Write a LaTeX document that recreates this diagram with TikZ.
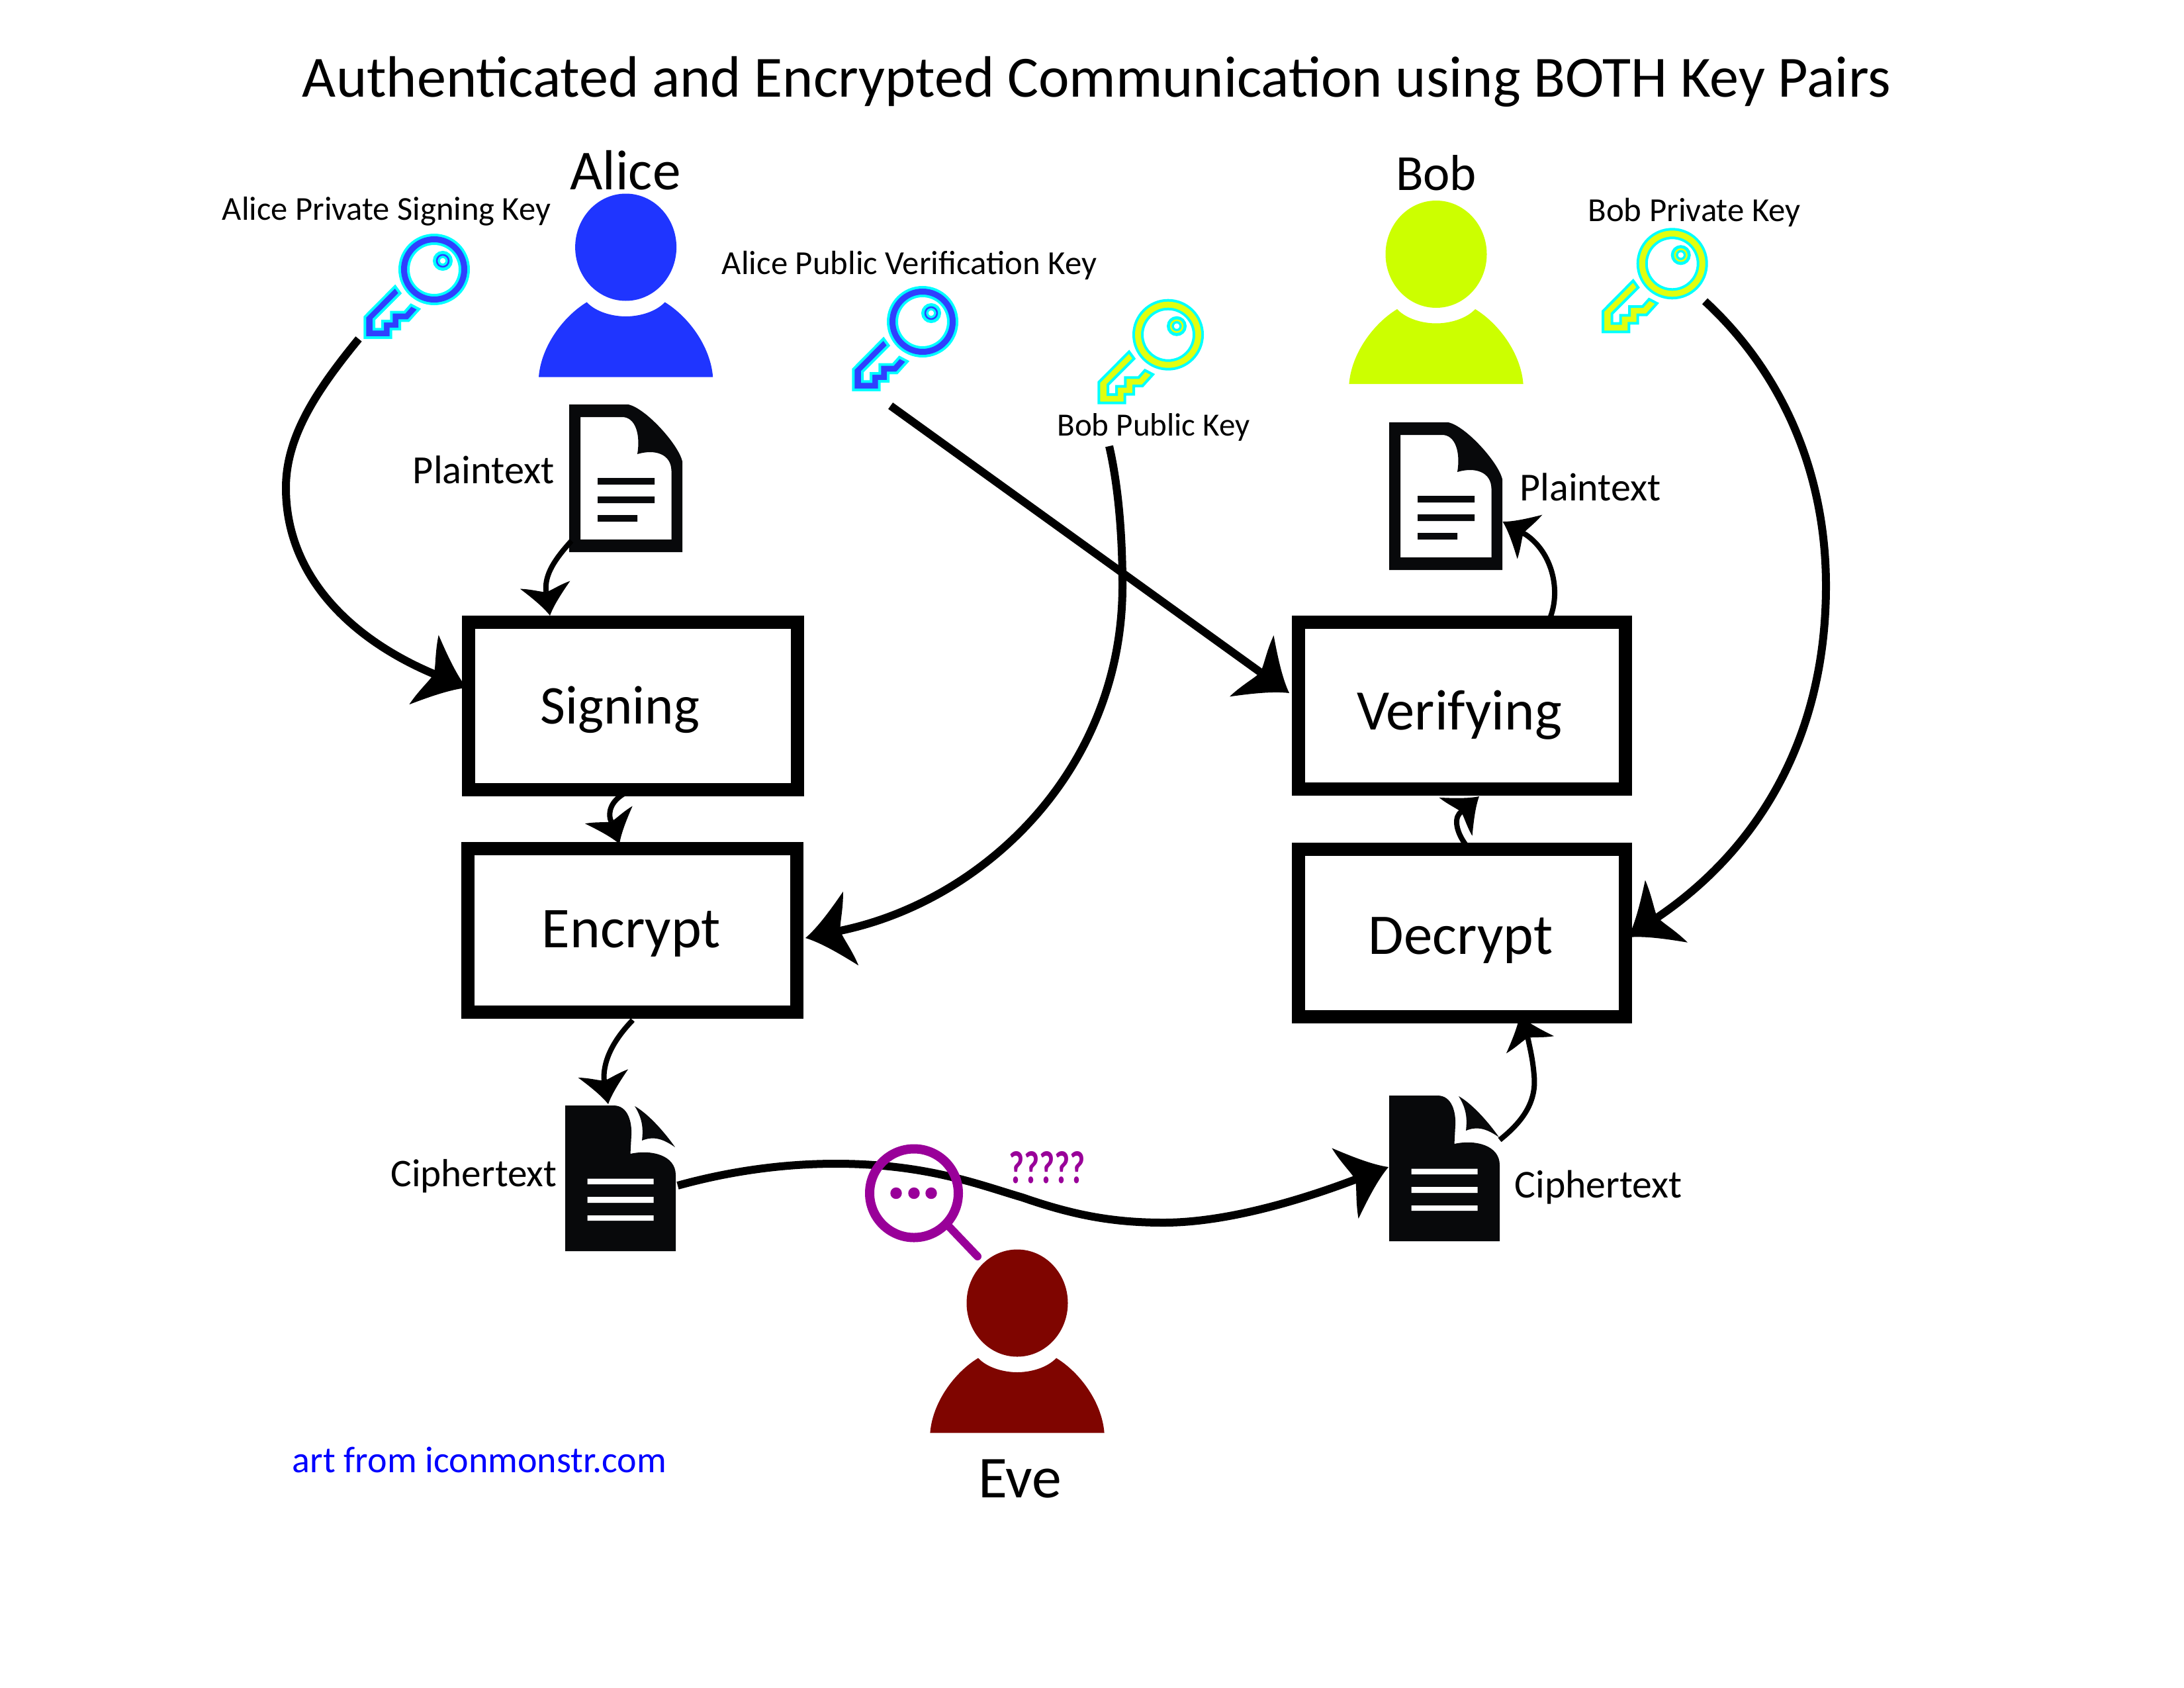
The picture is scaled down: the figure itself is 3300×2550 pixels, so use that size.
\documentclass[tikz,border=0pt]{standalone}
\usepackage{fontspec}
\usepackage{graphicx}
\setmainfont{Carlito}
\usetikzlibrary{arrows.meta}
\definecolor{alicecol}{HTML}{1F35FF}
\definecolor{alicekey}{HTML}{2F3FFF}
\definecolor{bobcol}{HTML}{CCFF00}
\definecolor{bobkey}{HTML}{E1FF0F}
\definecolor{evecol}{HTML}{7F0500}
\definecolor{inkdoc}{HTML}{08090B}
\definecolor{spy}{HTML}{990099}
\definecolor{edgecyan}{HTML}{00FFFF}
\definecolor{creditblue}{HTML}{0000FF}
\pgfdeclarearrow{
  name=Swoop,
  defaults={length=70pt},
  setup code={
    \pgfarrowssettipend{0pt}
    \pgfarrowssetbackend{-\pgfarrowlength}
    \pgfarrowssetlineend{-.78\pgfarrowlength}
    \pgfarrowssetvisualbackend{-.78\pgfarrowlength}
    \pgfarrowshullpoint{0pt}{0pt}
    \pgfarrowshullpoint{-\pgfarrowlength}{.814\pgfarrowlength}
    \pgfarrowshullpoint{-\pgfarrowlength}{-.814\pgfarrowlength}
    \pgfarrowssavethe\pgfarrowlength
  },
  parameters={\the\pgfarrowlength},
  drawing code={
    \pgfpathmoveto{\pgfqpoint{0pt}{0pt}}
    \pgfpathcurveto{\pgfpoint{-.314\pgfarrowlength}{.171\pgfarrowlength}}{\pgfpoint{-.686\pgfarrowlength}{.514\pgfarrowlength}}{\pgfpoint{-\pgfarrowlength}{.814\pgfarrowlength}}
    \pgfpathcurveto{\pgfpoint{-.94\pgfarrowlength}{.5\pgfarrowlength}}{\pgfpoint{-.83\pgfarrowlength}{.25\pgfarrowlength}}{\pgfpoint{-.786\pgfarrowlength}{.086\pgfarrowlength}}
    \pgfpathlineto{\pgfpoint{-.786\pgfarrowlength}{-.086\pgfarrowlength}}
    \pgfpathcurveto{\pgfpoint{-.83\pgfarrowlength}{-.25\pgfarrowlength}}{\pgfpoint{-.94\pgfarrowlength}{-.5\pgfarrowlength}}{\pgfpoint{-\pgfarrowlength}{-.814\pgfarrowlength}}
    \pgfpathcurveto{\pgfpoint{-.686\pgfarrowlength}{-.514\pgfarrowlength}}{\pgfpoint{-.314\pgfarrowlength}{-.171\pgfarrowlength}}{\pgfqpoint{0pt}{0pt}}
    \pgfpathclose
    \pgfusepathqfill
  },
}
\tikzset{
  bigflow/.style={line width=12pt,draw=black,-{Swoop[length=70pt]}},
  smallflow/.style={line width=8pt,draw=black,-{Swoop[length=47pt]}},
  stagebox/.style={draw=black,line width=20pt,fill=white,minimum width=#1,inner sep=0pt,outer sep=0pt},
  caption/.style={inner sep=0pt,outer sep=0pt,text=black},
}
\newcommand{\fitted}[2]{\resizebox{#1pt}{!}{#2}}
\newcommand{\personicon}[4]{%
  \coordinate (#1) at (#2,#3);
  \begin{scope}[shift={(#2,#3)}]
    \fill[#4] (0,0) ellipse [x radius=76.5,y radius=81];
    \fill[#4] (-131.6,196) .. controls (-128,150) and (-95,105) .. (-59,83)
      .. controls (-45,98) and (-20,104.5) .. (0,104.5)
      .. controls (20,104.5) and (45,98) .. (59,83)
      .. controls (95,105) and (128,150) .. (131.6,196) -- cycle;
  \end{scope}}
\newcommand{\keyicon}[4]{%
  \coordinate (#1) at (#2,#3);
  \begin{scope}[shift={(#2,#3)}]
    \draw[edgecyan,line width=17pt] (0,0) circle [radius=45.5];
    \draw[#4,line width=9pt] (0,0) circle [radius=45.5];
    \draw[edgecyan,line width=10.7pt] (13,-13) circle [radius=9.6];
    \draw[#4,line width=2.5pt] (13,-13) circle [radius=9];
    \filldraw[draw=edgecyan,fill=#4,line width=4pt,miter limit=4]
      (-59,25.7) -- (-104.7,71.8) -- (-104.7,103) -- (-65.3,103) -- (-65.3,90) -- (-52,90) -- (-52,77.3)
      -- (-38.7,77.3) -- (-23,60) -- (-35,53.7) -- (-44.7,64.7) -- (-64.7,64.7) -- (-64.7,78) -- (-78,78)
      -- (-78,90.3) -- (-91,90.3) -- (-91,75.5) -- (-51.5,36) -- cycle;
  \end{scope}}
\newcommand{\plainicon}[3]{%
  \coordinate (#1) at (#2,#3);
  \begin{scope}[shift={(#2,#3)}]
    \fill[inkdoc,even odd rule] (0,0) -- (89,0) .. controls (115,5) and (165,60) .. (171,86) -- (171,223) -- (0,223) -- cycle
      (17,19) -- (80,19) .. controls (100,19) and (108,45) .. (103,75) .. controls (130,67) and (154,75) .. (154.5,100)
      -- (154.5,204) -- (17,204) -- cycle;
    \fill[inkdoc] (43,111) rectangle (129,121) (43,139) rectangle (129,149) (43,167) rectangle (103,177);
  \end{scope}}
\newcommand{\ciphericon}[3]{%
  \coordinate (#1) at (#2,#3);
  \begin{scope}[shift={(#2,#3)}]
    \fill[inkdoc] (0,0) -- (73,0) .. controls (95,0) and (101,25) .. (100,45) -- (98.5,73)
      .. controls (130,66) and (167,75) .. (167,105) -- (167,220) -- (0,220) -- cycle;
    \fill[inkdoc] (105,1) .. controls (125,12) and (150,40) .. (166,63)
      .. controls (150,52) and (135,45) .. (116,53) .. controls (118,35) and (117,20) .. (105,1) -- cycle;
    \fill[white] (33.7,110.7) rectangle (133.7,119) (33.7,138) rectangle (133.7,147) (33.7,166) rectangle (133.7,174);
  \end{scope}}
\begin{document}
\begin{tikzpicture}[x=1pt,y=-1pt]
\useasboundingbox (0,0) rectangle (3300,2550);
% title
\node[caption] (title) at (1657,123) {\fitted{2400}{Authenticated and Encrypted Communication using BOTH Key Pairs}};
% people
\personicon{alice}{945.6}{373.5}{alicecol}
\personicon{bob}{2170}{384}{bobcol}
\personicon{eve}{1537}{1968.5}{evecol}
\node[caption] (alicename) at (945,257) {\fitted{167}{Alice}};
\node[caption] (bobname) at (2170,261) {\fitted{122}{Bob}};
\node[caption] (evename) at (1541,2234) {\fitted{126}{Eve}};
% keys
\keyicon{kAS}{656}{407}{alicekey}
\keyicon{kAP}{1394}{486}{alicekey}
\keyicon{kBP}{1765}{505.7}{bobkey}
\keyicon{kBS}{2526.7}{398.3}{bobkey}
\node[caption] (lAS) at (584,319) {\fitted{496}{Alice Private Signing Key}};
\node[caption] (lAP) at (1374,401) {\fitted{566}{Alice Public Verification Key}};
\node[caption] (lBP) at (1743,645) {\fitted{291}{Bob Public Key}};
\node[caption] (lBS) at (2560,321) {\fitted{321}{Bob Private Key}};
% documents
\plainicon{plainA}{860}{611}
\plainicon{plainB}{2099}{638}
\ciphericon{cipherA}{854}{1670}
\ciphericon{cipherB}{2099}{1655}
\node[caption] (lPA) at (731,710) {\fitted{214}{Plaintext}};
\node[caption] (lPB) at (2403,736) {\fitted{213}{Plaintext}};
\node[caption] (lCA) at (716,1777) {\fitted{251}{Ciphertext}};
\node[caption] (lCB) at (2415,1794) {\fitted{253}{Ciphertext}};
% boxes
\node[stagebox=497pt,minimum height=253pt] (sign) at (956.5,1066.5) {};
\node[stagebox=497pt,minimum height=247pt] (enc) at (955.5,1405.5) {};
\node[stagebox=494pt,minimum height=252pt] (ver) at (2209,1066) {};
\node[stagebox=494pt,minimum height=253pt] (dec) at (2209,1409.5) {};
\node[caption] (tsign) at (937,1072) {\fitted{240}{Signing}};
\node[caption] (tenc) at (954,1411) {\fitted{270}{Encrypt}};
\node[caption] (tver) at (2205,1080) {\fitted{310}{Verifying}};
\node[caption] (tdec) at (2207,1421) {\fitted{278}{Decrypt}};
% connectors
\draw[bigflow] ([shift={(-114,105)}]kAS) .. controls (478,590) and (432,660) .. (432,737)
  .. controls (432,870) and (530,965) .. ([shift={(-251.5,-27.5)}]sign.center);
\draw[bigflow] ([shift={(-48.4,127)}]kAP) -- ([shift={(-261,-19)}]ver.center);
\draw[bigflow] ([shift={(-89,168.3)}]kBP) .. controls (1690,735) and (1696,810) .. (1696,885)
  .. controls (1696,1160) and (1490,1360) .. ([shift={(261.5,11.5)}]enc.center);
\draw[bigflow] ([shift={(49.3,56.7)}]kBS) .. controls (2690,560) and (2759,710) .. (2759,885)
  .. controls (2759,1110) and (2660,1280) .. ([shift={(251,6.5)}]dec.center);
\draw[smallflow] ([shift={(3.5,206)}]plainA) .. controls (838,845) and (823,868) .. (825,892) -- ([shift={(-125.5,-136.5)}]sign.center);
\draw[smallflow] ([shift={(-1.5,126.5)}]sign.center) .. controls (932,1202) and (918,1218) .. (922,1237) -- ([shift={(-19.5,-130.5)}]enc.center);
\draw[smallflow] ([shift={(.5,135.5)}]enc.center) .. controls (928,1570) and (912,1600) .. (912.5,1629) -- ([shift={(65,-2)}]cipherA);
\draw[bigflow] ([shift={(170,121)}]cipherA) .. controls (1100,1770) and (1180,1758) .. (1263,1758)
  .. controls (1400,1758) and (1480,1790) .. (1545,1809)
  .. controls (1620,1835) and (1680,1847) .. (1758,1847)
  .. controls (1850,1847) and (1960,1815) .. ([shift={(-1,108)}]cipherB);
\draw[smallflow] ([shift={(167,67)}]cipherB) .. controls (2300,1695) and (2322,1665) .. (2318,1625)
  .. controls (2316,1600) and (2312,1585) .. (2309,1570) -- ([shift={(87,124.5)}]dec.center);
\draw[smallflow] ([shift={(8,-130.5)}]dec.center) .. controls (2203,1262) and (2196,1240) .. (2205,1229) -- ([shift={(26,137)}]ver.center);
\draw[smallflow] ([shift={(134,-135)}]ver.center) .. controls (2358,890) and (2345,835) .. (2306,808) -- ([shift={(171.5,150)}]plainB);
% magnifier
\draw[spy,line width=14pt] (1381,1802.5) circle [radius=67];
\draw[spy,line width=12pt,line cap=round] (1433,1852) -- (1477,1898);
\fill[spy] (1354,1802.5) circle [radius=8.7] (1381,1802.5) circle [radius=8.7] (1407,1802.5) circle [radius=8.7];
\node[caption,text=spy] (qmarks) at (1582,1764) {\resizebox{116pt}{48pt}{\bfseries ?????}};
\node[caption,text=creditblue] (credit) at (724.5,2205) {\fitted{565}{art from iconmonstr.com}};
\end{tikzpicture}
\end{document}
